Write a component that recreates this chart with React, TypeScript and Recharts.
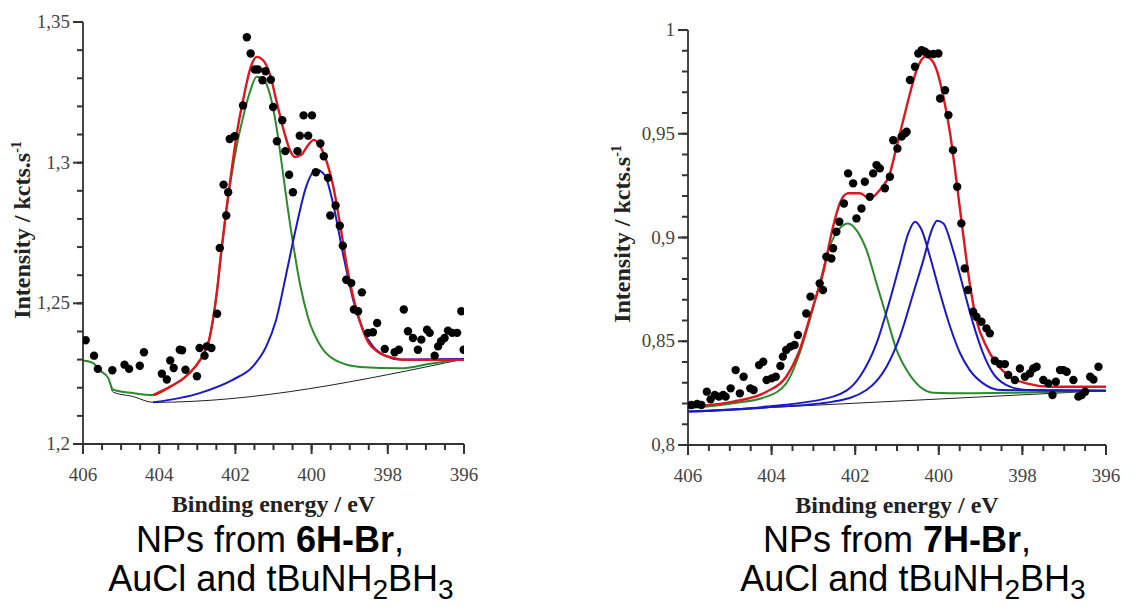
import { ComposedChart, Line, Scatter, XAxis, YAxis } from 'recharts'

// [binding energy, intensity] pairs

// ---- left: NPs from 6H-Br ----
const pointsA = [
  [405.93, 1.2369], [405.71, 1.2314], [405.61, 1.2267], [405.23, 1.2262], [404.91, 1.2282],
  [404.79, 1.2267], [404.51, 1.2278], [404.4, 1.2326], [403.93, 1.225], [403.8, 1.2229],
  [403.71, 1.2297], [403.62, 1.227], [403.46, 1.2335], [403.4, 1.2333], [403.31, 1.2264],
  [403.01, 1.2241], [402.94, 1.2341], [402.81, 1.2314], [402.75, 1.2347], [402.63, 1.2341],
  [402.48, 1.2463], [402.41, 1.2697], [402.31, 1.2922], [402.24, 1.2812], [402.19, 1.2895],
  [402.15, 1.3084], [402.02, 1.3094], [401.8, 1.3203], [401.7, 1.3446], [401.6, 1.3388],
  [401.49, 1.3331], [401.41, 1.3331], [401.29, 1.3293], [401.21, 1.3325], [401.07, 1.3295],
  [401.01, 1.3198], [400.91, 1.3076], [400.77, 1.3151], [400.69, 1.3041], [400.59, 1.2957],
  [400.49, 1.2895], [400.37, 1.3041], [400.31, 1.3096], [400.21, 1.3168], [400.09, 1.3096],
  [399.99, 1.3168], [399.89, 1.2966], [399.77, 1.3068], [399.68, 1.3023], [399.57, 1.2946],
  [399.51, 1.2812], [399.37, 1.2848], [399.26, 1.2776], [399.18, 1.2705], [399.09, 1.2584],
  [398.96, 1.2572], [398.89, 1.2478], [398.78, 1.2472], [398.68, 1.2539], [398.52, 1.2395],
  [398.39, 1.2397], [398.28, 1.243], [398.08, 1.2338], [397.82, 1.2326], [397.71, 1.2335],
  [397.58, 1.2478], [397.47, 1.2401], [397.34, 1.2377], [397.21, 1.2335], [397.12, 1.2371],
  [396.97, 1.2406], [396.9, 1.2395], [396.77, 1.2314], [396.68, 1.2347], [396.6, 1.2365],
  [396.51, 1.2377], [396.42, 1.2403], [396.31, 1.2395], [396.18, 1.2395], [396.07, 1.2472],
  [396.01, 1.2335],
]
const baseA = [
  [406, 1.2297], [405.74, 1.2288], [405.56, 1.2262], [405.34, 1.2235], [405.21, 1.2184],
  [404.69, 1.2169], [404.16, 1.2148], [396, 1.2302],
]
const greenA = [
  [406, 1.2297], [405.74, 1.2288], [405.56, 1.2262], [405.34, 1.2235], [405.21, 1.2193],
  [404.69, 1.2181], [404.16, 1.2174], [403.72, 1.2203], [403.32, 1.2238], [403.06, 1.2274],
  [402.85, 1.2316], [402.69, 1.237], [402.59, 1.2441], [402.48, 1.2547], [402.38, 1.2672],
  [402.25, 1.2814], [402.12, 1.2939], [401.96, 1.3063], [401.77, 1.3177], [401.62, 1.3251],
  [401.44, 1.3305], [401.25, 1.3294], [401.09, 1.3241], [400.93, 1.3134], [400.78, 1.2992],
  [400.62, 1.2832], [400.46, 1.269], [400.3, 1.2565], [400.09, 1.2448], [399.78, 1.2352],
  [399.39, 1.2299], [398.73, 1.2274], [397.68, 1.2269], [396.89, 1.2285], [396, 1.2302],
]
const blueA = [
  [404.16, 1.2148], [402.94, 1.2181], [402.06, 1.2229], [401.54, 1.2276], [401.19, 1.2347],
  [400.93, 1.2442], [400.66, 1.2608], [400.4, 1.2774], [400.14, 1.2916], [399.88, 1.2975],
  [399.66, 1.2957], [399.44, 1.2857], [399.18, 1.2679], [398.91, 1.2513], [398.65, 1.2406],
  [398.39, 1.2347], [398.04, 1.2312], [397.69, 1.23], [396, 1.2302],
]
const envelopeA = [
  [404.16, 1.2174], [403.72, 1.2203], [403.32, 1.2238], [403.06, 1.2274], [402.85, 1.2316],
  [402.69, 1.237], [402.59, 1.2441], [402.48, 1.2547], [402.38, 1.2672], [402.25, 1.2821],
  [402.12, 1.2953], [401.96, 1.3106], [401.77, 1.3241], [401.62, 1.333], [401.44, 1.3376],
  [401.28, 1.3365], [401.09, 1.3312], [400.91, 1.3212], [400.72, 1.3109], [400.57, 1.3045],
  [400.44, 1.302], [400.28, 1.3027], [400.09, 1.3063], [399.94, 1.3081], [399.78, 1.3059],
  [399.6, 1.3002], [399.44, 1.2921], [399.25, 1.2779], [399.07, 1.2629], [398.89, 1.2512],
  [398.7, 1.2423], [398.52, 1.2363], [398.26, 1.2327], [397.86, 1.2306], [397.55, 1.2299],
  [396, 1.2299],
]

// ---- right: NPs from 7H-Br ----
const pointsB = [
  [405.92, 0.8193], [405.78, 0.8198], [405.68, 0.8193], [405.55, 0.8257], [405.46, 0.822],
  [405.36, 0.8241], [405.26, 0.8233], [405.16, 0.8241], [405.1, 0.8233], [404.98, 0.8273],
  [404.86, 0.8361], [404.76, 0.8249], [404.67, 0.8329], [404.51, 0.8273], [404.43, 0.8265],
  [404.3, 0.8385], [404.2, 0.8401], [404.12, 0.8313], [404.0, 0.8321], [403.9, 0.8329],
  [403.79, 0.8381], [403.73, 0.8426], [403.65, 0.8458], [403.55, 0.8474], [403.45, 0.8482],
  [403.37, 0.853], [403.17, 0.8634], [403.07, 0.8715], [402.85, 0.8779], [402.77, 0.8747],
  [402.69, 0.8907], [402.57, 0.8899], [402.53, 0.8948], [402.45, 0.9028], [402.38, 0.9076],
  [402.27, 0.9164], [402.17, 0.9309], [402.05, 0.9261], [401.97, 0.9092], [401.85, 0.914],
  [401.77, 0.9269], [401.65, 0.9196], [401.57, 0.9309], [401.49, 0.9349], [401.41, 0.9333],
  [401.29, 0.9237], [401.17, 0.9293], [401.09, 0.9469], [400.99, 0.9429], [400.89, 0.9486],
  [400.81, 0.9502], [400.77, 0.951], [400.69, 0.9759], [400.57, 0.9823], [400.49, 0.9887],
  [400.41, 0.9903], [400.33, 0.9895], [400.25, 0.9884], [400.13, 0.9884], [400.01, 0.9887],
  [399.97, 0.967], [399.85, 0.971], [399.77, 0.959], [399.66, 0.9421], [399.56, 0.9245],
  [399.46, 0.9068], [399.38, 0.8851], [399.3, 0.8747], [399.18, 0.8642], [399.1, 0.8618],
  [398.98, 0.8594], [398.86, 0.8562], [398.78, 0.8538], [398.66, 0.8406], [398.54, 0.839],
  [398.42, 0.839], [398.34, 0.8337], [398.18, 0.8313], [398.06, 0.8369], [397.94, 0.8329],
  [397.82, 0.8345], [397.74, 0.8369], [397.66, 0.8377], [397.5, 0.8313], [397.38, 0.8297],
  [397.28, 0.8241], [397.2, 0.8305], [397.1, 0.8361], [397.02, 0.8361], [396.94, 0.8353],
  [396.78, 0.8313], [396.66, 0.8233], [396.58, 0.8241], [396.5, 0.8257], [396.38, 0.8329],
  [396.3, 0.8316], [396.18, 0.8377],
]
const baseB = [[406, 0.8161], [396, 0.8262]]
const greenB = [
  [406, 0.8177], [404.92, 0.8201], [404.12, 0.8233], [403.65, 0.8297], [403.33, 0.8442],
  [403.09, 0.8602], [402.85, 0.8779], [402.61, 0.8956], [402.37, 0.9044], [402.17, 0.9068],
  [401.97, 0.9036], [401.73, 0.894], [401.49, 0.8779], [401.25, 0.8618], [401.01, 0.8458],
  [400.77, 0.8361], [400.45, 0.8281], [400.13, 0.8252], [399.34, 0.8249], [398.14, 0.8252],
  [396, 0.8262],
]
const blue1B = [
  [406, 0.8161], [404.12, 0.8185], [402.53, 0.8233], [401.89, 0.8329], [401.49, 0.849],
  [401.17, 0.8699], [400.93, 0.8875], [400.73, 0.902], [400.57, 0.9076], [400.41, 0.9036],
  [400.21, 0.8907], [399.97, 0.8731], [399.73, 0.857], [399.49, 0.8442], [399.26, 0.8361],
  [398.94, 0.8297], [398.54, 0.8265], [396, 0.8262],
]
const blue2B = [
  [406, 0.8161], [404.12, 0.8181], [402.53, 0.8209], [401.73, 0.8265], [401.25, 0.8377],
  [400.93, 0.8522], [400.61, 0.8731], [400.37, 0.8891], [400.17, 0.9036], [400.04, 0.9081],
  [399.89, 0.9068], [399.66, 0.8939], [399.42, 0.8763], [399.18, 0.8586], [398.94, 0.8442],
  [398.7, 0.8345], [398.38, 0.8289], [397.9, 0.8265], [396, 0.8262],
]
const envelopeB = [
  [406, 0.8185], [404.92, 0.8209], [404.12, 0.8257], [403.65, 0.8329], [403.33, 0.8458],
  [403.01, 0.8666], [402.77, 0.8827], [402.53, 0.9052], [402.37, 0.9164], [402.17, 0.9213],
  [401.89, 0.9213], [401.65, 0.9188], [401.41, 0.9229], [401.17, 0.9309], [401.01, 0.9437],
  [400.85, 0.9566], [400.69, 0.9694], [400.53, 0.9807], [400.33, 0.9871], [400.21, 0.9863],
  [400.05, 0.9807], [399.89, 0.9678], [399.73, 0.9502], [399.58, 0.9277], [399.42, 0.902],
  [399.26, 0.8779], [399.1, 0.8602], [398.86, 0.8474], [398.62, 0.8393], [398.3, 0.8329],
  [397.9, 0.8297], [397.34, 0.8281], [396, 0.8281],
]

// ---- axes ----
const xTicks = [406, 405.5, 405, 404.5, 404, 403.5, 403, 402.5, 402, 401.5, 401, 400.5, 400,
  399.5, 399, 398.5, 398, 397.5, 397, 396.5, 396]
const xMajor = [406, 404, 402, 400, 398, 396]
const yTicksA = [1.2, 1.21, 1.22, 1.23, 1.24, 1.25, 1.26, 1.27, 1.28, 1.29, 1.3, 1.31, 1.32,
  1.33, 1.34, 1.35]
const yMajorA = [1.2, 1.25, 1.3, 1.35]
const yTicksB = [0.8, 0.81, 0.82, 0.83, 0.84, 0.85, 0.86, 0.87, 0.88, 0.89, 0.9, 0.91, 0.92,
  0.93, 0.94, 0.95, 0.96, 0.97, 0.98, 0.99, 1]
const yMajorB = [0.8, 0.85, 0.9, 0.95, 1]

const serif = '"Liberation Serif", "Times New Roman", serif'
const sans = '"Liberation Sans", Arial, sans-serif'
const axisColor = '#333'
const RED = '#e0161e'
const GREEN = '#2b8a2b'
const BLUE = '#1a1ac4'
const MINOR = 6 // native tick length; majors get drawn longer below

const toRows = (pairs: number[][]) => pairs.map(([E, V]) => ({ E, V }))
const fmt = (v: number) => String(v).replace('.', ',')
const isMajor = (v: number, majors: number[]) => majors.some((m) => Math.abs(m - v) < 1e-6)

// x, y arrive MINOR px outside the axis line
function XTick({ x, y, payload }: any) {
  if (!isMajor(payload.value, xMajor)) return <g />
  return (
    <g>
      <line x1={x} x2={x} y1={y - MINOR} y2={y + 4} stroke={axisColor} strokeWidth={2} />
      <text x={x} y={y + 31} textAnchor="middle" fontFamily={serif} fontSize={19} fill="#444">
        {payload.value}
      </text>
    </g>
  )
}

const makeYTick = (majors: number[]) => ({ x, y, payload }: any) => {
  if (!isMajor(payload.value, majors)) return <g />
  return (
    <g>
      <line x1={x + MINOR} x2={x - 4} y1={y} y2={y} stroke={axisColor} strokeWidth={2} />
      <text x={x - 7} y={y + 6} textAnchor="end" fontFamily={serif} fontSize={19} fill="#444">
        {fmt(payload.value)}
      </text>
    </g>
  )
}
const YTickA = makeYTick(yMajorA)
const YTickB = makeYTick(yMajorB)

const dot = (p: any) => <circle cx={p.cx} cy={p.cy} r={4.2} fill="#000" />

interface SpectrumProps {
  width: number
  height: number
  margin: { top: number; right: number; left: number; bottom: number }
  yWidth: number
  xHeight: number
  yDomain: [number, number]
  yTicks: number[]
  yTick: (t: any) => any
  points: number[][]
  base: number[][]
  green: number[][]
  blues: number[][][]
  envelope: number[][]
}

function Spectrum(p: SpectrumProps) {
  const line = (data: number[][], color: string, w: number, key: string) => (
    <Line key={key} data={toRows(data)} dataKey="V" type="monotone" stroke={color}
      strokeWidth={w} dot={false} activeDot={false} isAnimationActive={false} />
  )
  return (
    <ComposedChart width={p.width} height={p.height} margin={p.margin}>
      <XAxis dataKey="E" type="number" domain={[396, 406]} reversed allowDataOverflow
        ticks={xTicks} interval={0} tickSize={MINOR} tickMargin={0} height={p.xHeight}
        tickLine={{ stroke: axisColor, strokeWidth: 2 }}
        axisLine={{ stroke: axisColor, strokeWidth: 1.8 }}
        tick={(t: any) => <XTick {...t} />} />
      <YAxis dataKey="V" type="number" domain={p.yDomain} allowDataOverflow
        ticks={p.yTicks} interval={0} tickSize={MINOR} tickMargin={0} width={p.yWidth}
        tickLine={{ stroke: axisColor, strokeWidth: 2 }}
        axisLine={{ stroke: axisColor, strokeWidth: 1.8 }}
        tick={(t: any) => p.yTick(t)} />
      {line(p.base, '#222', 1, 'base')}
      {line(p.green, GREEN, 2, 'green')}
      {p.blues.map((b, i) => line(b, BLUE, 2, 'blue' + i))}
      {line(p.envelope, RED, 2.4, 'env')}
      <Scatter data={toRows(p.points)} dataKey="V" shape={dot} isAnimationActive={false} />
    </ComposedChart>
  )
}

// axis titles, placed on the plot boxes set by the chart margins above
function Titles() {
  const xt = (cx: number, y: number) => (
    <text x={cx} y={y} textAnchor="middle" fontFamily={serif} fontWeight="bold" fontSize={24} fill="#222">
      Binding energy / eV
    </text>
  )
  const yt = (cx: number, cy: number) => (
    <text transform={`translate(${cx},${cy}) rotate(-90)`} y={8} textAnchor="middle"
      fontFamily={serif} fontWeight="bold" fontSize={24} fill="#222">
      Intensity / kcts.s<tspan dy={-9} fontSize={14}>-1</tspan>
    </text>
  )
  return (
    <svg width={1137} height={607} style={{ position: 'absolute', left: 0, top: 0, pointerEvents: 'none' }}>
      {xt(273.5, 512)}
      {xt(897, 513)}
      {yt(22, 230)}
      {yt(622, 234)}
    </svg>
  )
}

const sub = (s: string) => (
  <span style={{ fontSize: '0.78em', position: 'relative', top: '0.28em', lineHeight: 0 }}>{s}</span>
)

function Caption({ cx, top, children }: { cx: number; top: number; children: any }) {
  return (
    <div style={{
      position: 'absolute', left: cx - 300, width: 600, top, textAlign: 'center',
      fontFamily: sans, fontSize: 36, lineHeight: '36px', color: '#000', whiteSpace: 'nowrap',
    }}>
      {children}
    </div>
  )
}

export default function App() {
  return (
    <div style={{ position: 'absolute', left: 0, top: 0, width: 1137, height: 607, background: '#fff' }}>
      <div style={{ position: 'absolute', left: 0, top: 0 }}>
        <Spectrum width={480} height={520} margin={{ top: 22, right: 16, left: 0, bottom: 0 }}
          yWidth={83} xHeight={76} yDomain={[1.2, 1.35]} yTicks={yTicksA} yTick={YTickA}
          points={pointsA} base={baseA} green={greenA} blues={[blueA]} envelope={envelopeA} />
      </div>
      <div style={{ position: 'absolute', left: 600, top: 0 }}>
        <Spectrum width={537} height={520} margin={{ top: 30, right: 31, left: 0, bottom: 0 }}
          yWidth={88} xHeight={75} yDomain={[0.8, 1]} yTicks={yTicksB} yTick={YTickB}
          points={pointsB} base={baseB} green={greenB} blues={[blue1B, blue2B]} envelope={envelopeB} />
      </div>
      <Titles />
      <Caption cx={270} top={522}>NPs from <b>6H-Br</b>,</Caption>
      <Caption cx={281} top={561}>AuCl and tBuNH{sub('2')}BH{sub('3')}</Caption>
      <Caption cx={897} top={522}>NPs from <b>7H-Br</b>,</Caption>
      <Caption cx={913} top={561}>AuCl and tBuNH{sub('2')}BH{sub('3')}</Caption>
    </div>
  )
}
